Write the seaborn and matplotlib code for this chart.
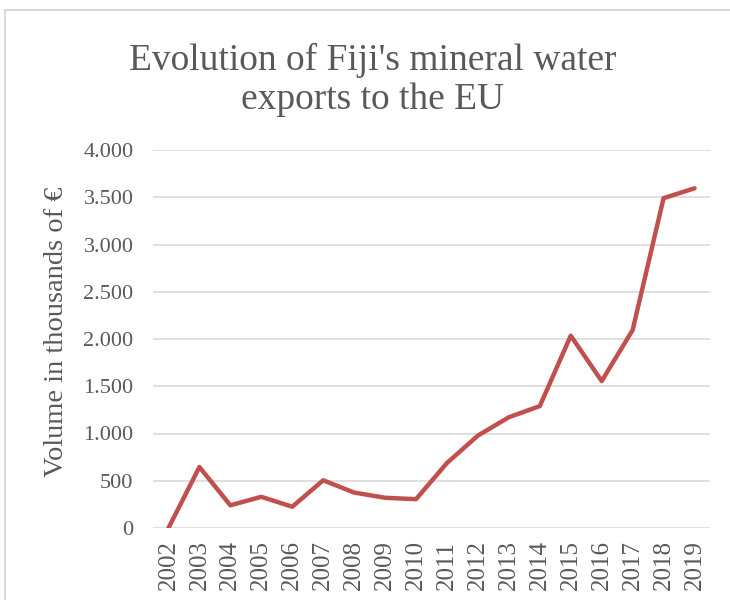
import matplotlib
matplotlib.use("Agg")
import pandas as pd
import seaborn as sns
import matplotlib.pyplot as plt
from matplotlib.ticker import FuncFormatter, MultipleLocator
from matplotlib.patches import Rectangle

years = [str(y) for y in range(2002, 2020)]
volume = [0, 645, 240, 330, 225, 505, 375, 320, 305,
          688, 978, 1172, 1290, 2035, 1555, 2095, 3490, 3595]

df = pd.DataFrame({"year": years, "volume": volume})

sns.set_theme(style="white")
plt.rcParams["font.family"] = ["Liberation Serif", "DejaVu Serif"]

fig = plt.figure(figsize=(7.3, 6), dpi=100)
ax = fig.add_axes([153 / 730, 72 / 600, 557 / 730, 378 / 600])

sns.lineplot(data=df, x="year", y="volume", ax=ax, color="#C0504D",
             linewidth=3.2, sort=False)

ax.set_xlim(-0.5, len(years) - 0.5)
ax.set_ylim(0, 4000)
ax.yaxis.set_major_locator(MultipleLocator(500))
ax.yaxis.set_major_formatter(FuncFormatter(lambda v, p: f"{v:,.0f}".replace(",", ".")))
ax.grid(axis="y", color="#d9d9d9", linewidth=1.2)
ax.set_axisbelow(True)
for s in ax.spines.values():
    s.set_visible(False)
ax.tick_params(axis="both", length=0, labelcolor="#595959")
ax.tick_params(axis="y", pad=14, labelsize=16)
ax.tick_params(axis="x", pad=9, labelsize=18)
plt.setp(ax.get_xticklabels(), rotation=90)

ax.set_xlabel("")
ax.set_ylabel("")
fig.text(57 / 730, 1 - 332 / 600, "Volume in thousands of €", rotation=90,
         ha="center", va="center", fontsize=20.5, color="#595959")

fig.text(373 / 730, 1 - 43 / 600, "Evolution of Fiji's mineral water\nexports to the EU",
         ha="center", va="top", fontsize=27, color="#595959", linespacing=1.17)

# chart frame (only top/left edges visible in the crop)
fig.add_artist(Rectangle((5 / 730, -0.1), 1.2, 0.1 + 590 / 600, transform=fig.transFigure,
                         fill=False, edgecolor="#d9d9d9", linewidth=1.5))

fig.savefig("out.png", dpi=100)
